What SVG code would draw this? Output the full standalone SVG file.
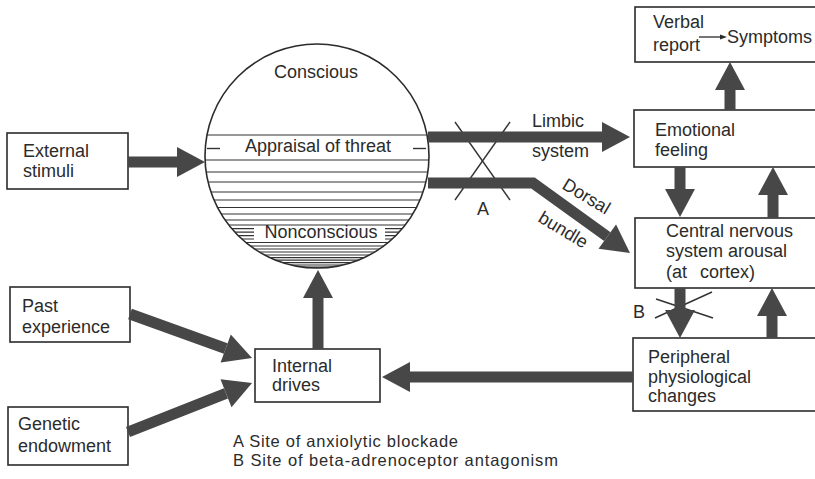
<svg xmlns="http://www.w3.org/2000/svg" width="815" height="479" viewBox="0 0 815 479">
  <style>
    .box { fill: #fff; stroke: #2b2b2b; stroke-width: 1.6; }
    .lbl { font-family: "Liberation Sans", Arial, sans-serif; font-size: 18px; fill: #2b2b2b; }
    .key { font-family: "Liberation Sans", Arial, sans-serif; font-size: 16.5px; fill: #2b2b2b; }
    .flow { fill: none; stroke: #474747; stroke-width: 11; stroke-linejoin: miter; marker-end: url(#head); }
    .stripe { stroke: #333; stroke-width: 1.2; }
    .tick { stroke: #333; stroke-width: 1.4; fill: none; }
  </style>
  <defs>
    <marker id="head" markerUnits="userSpaceOnUse" markerWidth="30" markerHeight="32" viewBox="0 -16 30 32" refX="0" refY="0" orient="auto" overflow="visible">
      <path d="M0,-15 L28,0 L0,15 z" fill="#474747"/>
    </marker>
    <marker id="small" markerUnits="userSpaceOnUse" markerWidth="8" markerHeight="8" viewBox="0 -4 8 8" refX="0" refY="0" orient="auto">
      <path d="M0,-2.6 L7,0 L0,2.6 z" fill="#2b2b2b"/>
    </marker>
    <clipPath id="disc">
      <circle cx="317" cy="156" r="112"/>
    </clipPath>
  </defs>

  <rect width="815" height="479" fill="#fff"/>

  <!-- blockade marks (drawn beneath the pathways) -->
  <g id="blockade-marks">
    <line class="tick" x1="455" y1="122" x2="510" y2="200"/>
    <line class="tick" x1="510" y1="122" x2="455" y2="200"/>
    <line class="tick" x1="655" y1="318" x2="712" y2="292"/>
    <line class="tick" x1="656" y1="299" x2="713" y2="318"/>
    <text class="lbl" x="483" y="215" text-anchor="middle">A</text>
    <text class="lbl" x="633" y="318">B</text>
  </g>

  <!-- awareness sphere -->
  <g id="awareness">
    <circle cx="317" cy="156" r="112" fill="#fff"/>
    <g clip-path="url(#disc)">
      <line class="stripe" x1="200" y1="135" x2="435" y2="135"/>
      <line class="stripe" x1="200" y1="160" x2="435" y2="160"/>
      <line class="stripe" x1="200" y1="172" x2="435" y2="172"/>
      <line class="stripe" x1="200" y1="182" x2="435" y2="182"/>
      <line class="stripe" x1="200" y1="192" x2="435" y2="192"/>
      <line class="stripe" x1="200" y1="200" x2="435" y2="200"/>
      <line class="stripe" x1="200" y1="207.5" x2="435" y2="207.5"/>
      <line class="stripe" x1="200" y1="214" x2="435" y2="214"/>
      <line class="stripe" x1="200" y1="220" x2="435" y2="220"/>
      <line class="stripe" x1="200" y1="225" x2="435" y2="225"/>
      <line class="stripe" x1="200" y1="228.6" x2="435" y2="228.6"/>
      <line class="stripe" x1="200" y1="232.1" x2="435" y2="232.1"/>
      <line class="stripe" x1="200" y1="235.6" x2="435" y2="235.6"/>
      <line class="stripe" x1="200" y1="239" x2="435" y2="239"/>
      <line class="stripe" x1="200" y1="242.5" x2="435" y2="242.5"/>
      <line class="stripe" x1="200" y1="246" x2="435" y2="246"/>
      <line class="stripe" x1="200" y1="249" x2="435" y2="249"/>
      <line class="stripe" x1="200" y1="252" x2="435" y2="252" stroke-width="1.4"/>
      <line class="stripe" x1="200" y1="255" x2="435" y2="255" stroke-width="1.5"/>
      <line class="stripe" x1="200" y1="257.6" x2="435" y2="257.6" stroke-width="1.7"/>
      <line class="stripe" x1="200" y1="260.2" x2="435" y2="260.2" stroke-width="1.9"/>
      <line class="stripe" x1="200" y1="262.6" x2="435" y2="262.6" stroke-width="2"/>
      <line class="stripe" x1="200" y1="265" x2="435" y2="265" stroke-width="2.1"/>
      <line class="stripe" x1="200" y1="267.2" x2="435" y2="267.2" stroke-width="2.2"/>
      <rect x="254" y="226.2" width="131" height="15.2" fill="#fff"/>
    </g>
    <circle cx="317" cy="156" r="112" fill="none" stroke="#2b2b2b" stroke-width="1.6"/>
    <line class="tick" x1="207" y1="148.5" x2="220" y2="148.5"/>
    <line class="tick" x1="413" y1="148.5" x2="426" y2="148.5"/>
    <text class="lbl" x="316" y="78" text-anchor="middle">Conscious</text>
    <text class="lbl" x="318" y="152" text-anchor="middle">Appraisal of threat</text>
    <text class="lbl" x="321" y="238" text-anchor="middle">Nonconscious</text>
  </g>

  <!-- nodes -->
  <g id="external-stimuli">
    <rect class="box" x="7" y="133" width="121" height="56"/>
    <text class="lbl" x="23" y="157">External</text>
    <text class="lbl" x="23" y="177">stimuli</text>
  </g>
  <g id="past-experience">
    <rect class="box" x="10" y="287" width="120" height="55"/>
    <text class="lbl" x="22" y="312">Past</text>
    <text class="lbl" x="22" y="333">experience</text>
  </g>
  <g id="genetic-endowment">
    <rect class="box" x="8" y="407" width="120" height="58"/>
    <text class="lbl" x="18" y="430">Genetic</text>
    <text class="lbl" x="18" y="452">endowment</text>
  </g>
  <g id="internal-drives">
    <rect class="box" x="255" y="349" width="125" height="53"/>
    <text class="lbl" x="272" y="372">Internal</text>
    <text class="lbl" x="272" y="391">drives</text>
  </g>
  <g id="verbal-report">
    <rect class="box" x="635" y="7" width="200" height="55"/>
    <text class="lbl" x="653" y="28">Verbal</text>
    <text class="lbl" x="653" y="51">report</text>
    <line x1="699" y1="37" x2="720" y2="37" stroke="#2b2b2b" stroke-width="1.3" marker-end="url(#small)"/>
    <text class="lbl" x="727" y="43">Symptoms</text>
  </g>
  <g id="emotional-feeling">
    <rect class="box" x="634" y="110" width="200" height="57"/>
    <text class="lbl" x="655" y="136">Emotional</text>
    <text class="lbl" x="655" y="156">feeling</text>
  </g>
  <g id="cns-arousal">
    <rect class="box" x="635" y="218" width="200" height="70"/>
    <text class="lbl" x="666" y="237">Central nervous</text>
    <text class="lbl" x="666" y="257">system arousal</text>
    <text class="lbl" x="666" y="278">(at<tspan dx="8"> cortex)</tspan></text>
  </g>
  <g id="peripheral-changes">
    <rect class="box" x="633" y="338" width="200" height="73"/>
    <text class="lbl" x="648" y="363">Peripheral</text>
    <text class="lbl" x="648" y="383">physiological</text>
    <text class="lbl" x="648" y="402">changes</text>
  </g>

  <!-- connectors -->
  <g id="connectors">
    <path class="flow" d="M128,162 H177"/>
    <path class="flow" d="M428,137 H602"/>
    <path class="flow" d="M428,183 H533 L607.3,236.6"/>
    <path class="flow" d="M730,110 V90" stroke-width="12"/>
    <path class="flow" d="M680,167 V189" stroke-width="12"/>
    <path class="flow" d="M773,218 V195" stroke-width="12"/>
    <path class="flow" d="M680,288 V310" stroke-width="12"/>
    <path class="flow" d="M772,338 V316" stroke-width="12"/>
    <path class="flow" d="M633,377 H410"/>
    <path class="flow" d="M318,349 V298"/>
    <path class="flow" d="M130,314 L225.7,348.5"/>
    <path class="flow" d="M128,432 L226,393.3"/>
    <text class="lbl" x="532" y="127">Limbic</text>
    <text class="lbl" x="532" y="157">system</text>
    <text class="lbl" transform="translate(561,188) rotate(31)">Dorsal</text>
    <text class="lbl" transform="translate(537,221) rotate(31)">bundle</text>
  </g>

  <!-- key -->
  <g id="key">
    <text class="key" x="233" y="447" textLength="225">A Site of anxiolytic blockade</text>
    <text class="key" x="233" y="466" textLength="325">B Site of beta-adrenoceptor antagonism</text>
  </g>
</svg>
